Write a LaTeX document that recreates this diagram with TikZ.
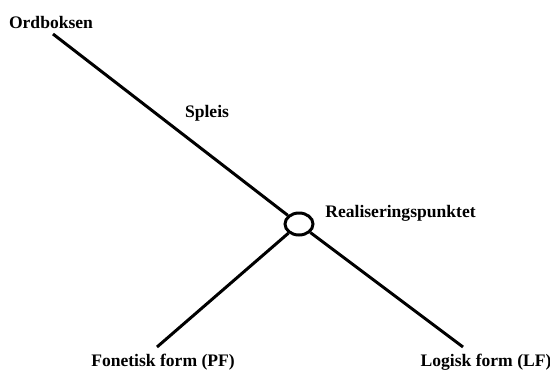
\documentclass[tikz,border=0pt]{standalone}
\usepackage{fontspec}
\setmainfont{Liberation Serif}
\usetikzlibrary{shapes.geometric, positioning}

\tikzset{
  branch/.style={line width=1.7pt},
  label/.style={font=\fontsize{10}{12}\selectfont\bfseries, inner sep=0pt}
}

\begin{document}
\begin{tikzpicture}
                \useasboundingbox (0,0) rectangle (11,7.52);

                % Spell-out point
                \node[ellipse, draw, line width=1.7pt, minimum width=0.56cm, minimum height=0.44cm, inner sep=0pt] (rp) at (5.98,3.04) {};

                % Branch ends
                \coordinate (top) at (1.06,6.84);
                \coordinate (pfend) at (3.14,0.58);
                \coordinate (lfend) at (9.26,0.58);

                % Branches
                \draw[branch] (top) -- (rp);
                \draw[branch] (rp) -- (pfend);
                \draw[branch] (rp) -- (lfend);

                % Labels
                \node[label] (ord) at (1.02,7.08) {Ordboksen};
                \node[label] (spleis) at (4.14,5.26) {Spleis};
                \node[label, anchor=west] (real) at (6.5,3.26) {Realiseringspunktet};
                \node[label] (pf) at (3.26,0.28) {Fonetisk form (PF)};
                \node[label] (lf) at (9.72,0.28) {Logisk form (LF)};
            \end{tikzpicture}
\end{document}
